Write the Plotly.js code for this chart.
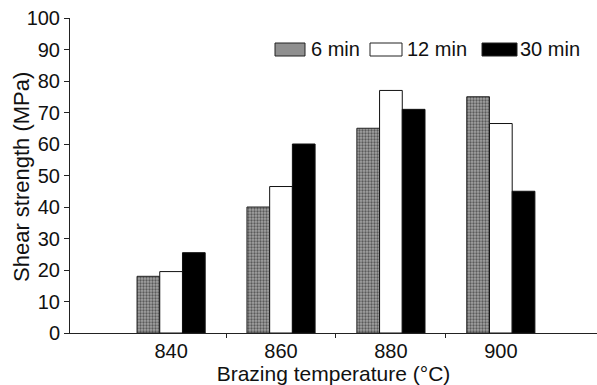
<!DOCTYPE html>
<html>
<head>
<meta charset="utf-8">
<script src="https://cdn.plot.ly/plotly-3.0.1.min.js"></script>
<style>html,body{margin:0;padding:0;background:#fff;}#chart{width:597px;height:385px;}</style>
</head>
<body>
<div id="chart"></div>
<script>
const temps = [840, 860, 880, 900];
const seriesNames = ['6 min', '12 min', '30 min'];
const min6 = [18, 40, 65, 75];
const min12 = [19.5, 46.5, 77, 66.5];
const min30 = [25.5, 60, 71, 45];
const yTicks = [0, 10, 20, 30, 40, 50, 60, 70, 80, 90, 100];
const xTitle = 'Brazing temperature (°C)';
const yTitle = 'Shear strength (MPa)';

const fills = ['#8f8f8f', '#ffffff', '#000000'];
const values = [min6, min12, min30];

const traces = values.map((v, i) => ({
  type: 'bar',
  name: seriesNames[i],
  x: temps,
  y: v,
  marker: i === 0
    ? {color: fills[i], line: {color: '#222', width: 1},
       pattern: {shape: '.', fgcolor: '#5a5a5a', bgcolor: '#a3a3a3', size: 3, solidity: 0.45}}
    : {color: fills[i], line: {color: '#111', width: 1}},
  hoverinfo: 'skip',
  showlegend: false
}));

const mids = temps.slice(0, -1).map((t, i) => (t + temps[i + 1]) / 2);

const FF = 'Liberation Sans, Arial, sans-serif';

// custom legend (pixel layout of the plot area: x 70..597, y 18..333)
const L = 70, W = 527, B = 333, H = 315;
const px = x => (x - L) / W;
const py = y => (B - y) / H;
const legItems = [
  {sx0: 275, sx1: 305, tx: 309},
  {sx0: 370, sx1: 402, tx: 405},
  {sx0: 482, sx1: 517, tx: 518}
];
const legY0 = 43, legY1 = 56, legYc = 49.5;
const shapes = legItems.map((it, i) => ({
  type: 'rect', xref: 'paper', yref: 'paper',
  x0: px(it.sx0), x1: px(it.sx1), y0: py(legY1), y1: py(legY0),
  fillcolor: fills[i], line: {color: '#222', width: 1}
}));
const annotations = legItems.map((it, i) => ({
  xref: 'paper', yref: 'paper', x: px(it.tx), y: py(legYc),
  xanchor: 'left', yanchor: 'middle', showarrow: false,
  text: seriesNames[i], font: {family: FF, size: 20, color: '#111'}
}));
annotations.push({
  xref: 'paper', yref: 'paper', x: px(21), y: py(177),
  xanchor: 'center', yanchor: 'middle', showarrow: false, textangle: -90,
  text: yTitle, font: {family: FF, size: 22, color: '#111'}
});

const layout = {
  width: 597, height: 385,
  margin: {l: 70, r: 0, t: 18, b: 52},
  paper_bgcolor: '#fff', plot_bgcolor: '#fff',
  font: {family: FF, size: 20, color: '#111'},
  barmode: 'group',
  bargap: 0.38,
  bargroupgap: 0,
  showlegend: false,
  shapes: shapes,
  annotations: annotations,
  xaxis: {
    type: 'linear',
    range: [821.6, 917.5],
    tickmode: 'array', tickvals: temps, ticktext: temps.map(String),
    ticks: '', showgrid: false, zeroline: false,
    showline: true, linecolor: '#222', linewidth: 1,
    minor: {tickmode: 'array', tickvals: mids, ticks: 'outside', ticklen: 4, tickcolor: '#222', showgrid: false},
    tickfont: {size: 20},
    automargin: false,
    title: {text: xTitle, font: {size: 21}, standoff: 2}
  },
  yaxis: {
    range: [0, 100],
    tickmode: 'array', tickvals: yTicks,
    ticks: 'outside', ticklen: 5, tickcolor: '#222',
    showgrid: false, zeroline: false,
    showline: true, linecolor: '#222', linewidth: 1,
    tickfont: {size: 20},
    automargin: false
  }
};

Plotly.newPlot('chart', traces, layout, {displayModeBar: false, staticPlot: true});
</script>
</body>
</html>
